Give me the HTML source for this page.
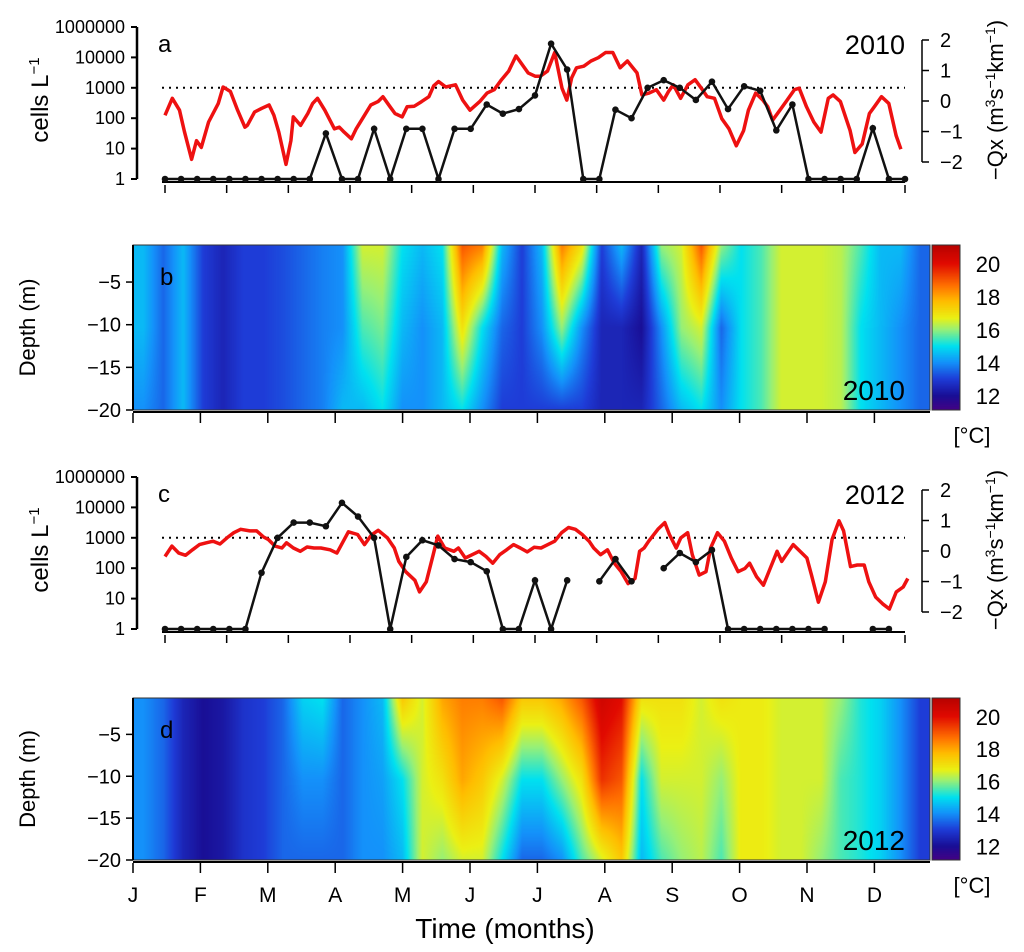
<!DOCTYPE html>
<html><head><meta charset="utf-8">
<style>
body{margin:0;background:#fff;}
#wrap{position:relative;width:1024px;height:952px;overflow:hidden;font-family:"Liberation Sans",sans-serif;}
canvas{position:absolute;}
svg{position:absolute;left:0;top:0;}
text{font-family:"Liberation Sans",sans-serif;fill:#000;}
</style></head>
<body>
<div id="wrap">
<canvas id="hmB" width="797" height="165" style="left:133px;top:245px"></canvas>
<canvas id="hmD" width="797" height="162" style="left:133px;top:698px"></canvas>
<canvas id="cbB" width="28" height="165" style="left:932px;top:245px"></canvas>
<canvas id="cbD" width="28" height="162" style="left:932px;top:698px"></canvas>
<svg id="svg" width="1024" height="952"></svg>
</div>
<script>
// ---- data ----
const cells2010 = [0,0,0,0,0,0,0,0,0,0,1.5,0,0,1.65,0,1.65,1.65,0,1.65,1.65,2.45,2.15,2.3,2.75,4.45,3.6,0,0,2.28,2.0,3.0,3.25,3.0,2.6,3.2,2.3,3.05,2.9,1.6,2.45,0,0,0,0,1.67,0,0];
const cells2012 = [0,0,0,0,0,0,1.85,3.0,3.5,3.5,3.38,4.15,3.7,3.0,0,2.37,2.92,2.75,2.3,2.2,1.9,0,0,1.6,0,1.6,null,1.57,2.3,1.57,null,2.0,2.5,2.2,2.6,0,0,0,0,0,0,0,null,null,0,0];
const qxDay2010 = [0,3,6,8,11,13,15,18,22,24,27,30,33,34,37,40,43,45,47,50,52,53,56,59,61,63,66,70,72,74,77,79,82,85,88,90,93,95,98,100,103,106,109,111,113,116,120,123,126,130,133,136,139,142,145,147,150,153,155,158,161,164,166,168,170,173,176,179,182,185,188,191,195,197,200,203,206,208,210,213,216,219,222,224,227,230,233,236,239,241,244,247,249,251,254,257,260,262,265,268,271,274,276,279,283,285,288,291,293,296,299,302,304,306,309];
const qx2010 = [-0.47,0.09,-0.3,-1.0,-1.91,-1.3,-1.52,-0.69,-0.08,0.46,0.31,-0.3,-0.86,-0.8,-0.36,-0.24,-0.13,-0.47,-1.02,-2.08,-1.3,-0.52,-0.8,-0.41,-0.08,0.09,-0.3,-0.91,-0.86,-1.02,-1.24,-0.91,-0.52,-0.13,-0.02,0.14,-0.19,-0.41,-0.52,-0.19,-0.17,-0.02,0.14,0.5,0.64,0.46,0.53,0.03,-0.3,-0.02,0.26,0.37,0.7,0.98,1.48,1.26,0.92,0.81,0.81,0.98,1.59,0.42,0.03,0.76,1.09,1.14,1.31,1.42,1.59,1.59,1.09,1.31,0.92,0.2,0.26,0.37,0.03,0.31,0.53,0.09,0.53,0.7,0.37,0.14,0.09,-0.58,-0.91,-1.47,-0.97,-0.3,0.26,0.03,-0.19,-0.63,-0.3,0.03,0.37,0.42,-0.19,-0.69,-1.02,0.09,0.2,-0.02,-0.97,-1.69,-1.41,-0.41,-0.19,0.14,-0.08,-1.13,-1.58];
const qxDay2012 = [0,3,6,9,12,15,18,21,24,27,30,33,37,40,43,45,48,51,53,56,59,62,65,68,72,75,77,80,84,87,90,93,97,100,102,105,109,111,114,117,119,122,126,128,131,134,137,140,143,146,149,152,155,158,161,164,167,170,173,176,179,182,185,187,190,193,196,199,202,205,207,209,211,215,218,220,223,225,228,230,233,236,238,241,244,247,250,253,255,258,261,264,267,269,272,274,277,280,282,285,288,291,294,296,299,302,305,307,310,313,316,319,322,324,327,330,333,335];
const qx2012 = [-0.18,0.16,-0.07,-0.14,0.04,0.21,0.27,0.32,0.23,0.43,0.6,0.71,0.66,0.66,0.46,0.38,0.16,0.1,0.27,0.1,-0.01,0.13,0.1,0.1,0.04,-0.07,0.21,0.63,0.54,0.21,0.52,0.68,0.43,0.1,-0.34,-0.68,-0.96,-1.34,-1.01,-0.12,0.49,0.1,-0.01,0.1,-0.23,-0.12,-0.01,-0.18,-0.4,-0.12,0.04,0.21,0.1,-0.03,0.12,0.1,0.21,0.32,0.6,0.77,0.71,0.54,0.32,0.1,-0.12,0.04,-0.4,-0.68,-1.07,-0.9,-0.01,0.1,0.32,0.71,0.93,0.54,0.1,0.43,0.6,-0.12,-0.79,-0.68,0.1,0.6,0.32,-0.23,-0.68,-0.57,-0.4,-0.84,-1.12,-0.57,-0.01,-0.34,-0.01,0.21,-0.01,-0.23,-0.79,-1.68,-1.01,0.38,0.99,0.66,-0.51,-0.46,-0.46,-1.01,-1.51,-1.73,-1.9,-1.34,-1.18,-0.9];
// temperature columns (surface, mid, bottom)
const tTop2010 = [14.5,13.5,14.5,13,12.5,13,13,13.2,13.5,13.8,14,16.5,16.5,15,14.5,15,19,18.5,14.5,13,14.5,18.5,17,13,14.5,12.5,16,16.5,19,16,15,15.5,16.5,16.5,16.5,16.3,15.5,14.5,14.5,13.5];
const tMid2010 = [14.5,13.5,14.5,13,12.5,13,13,13.2,13.5,13.8,14,15.5,15.8,14.5,14,14.5,17,15,13.5,13,14,16,14,12.5,12.5,12,14,16,16.5,13.5,15,15.5,16.5,16.5,16.5,16.3,15,14.5,14,13.5];
const tBot2010 = [14,13.5,14.5,13,12.5,13,13,13.2,13.5,13.8,14.5,14.5,15,14,14,14.5,15,14,13,13,13,13,13,12.5,12.5,12.5,13.5,14.5,15,14,15,15.5,16.5,16.5,16.5,16.3,15,14.5,14,13.5];
const tTop2012 = [14,13.5,12.5,12,12.2,12.8,13,13.5,14.8,15,13.5,14,14.5,17.5,16.5,18,18.5,18.5,19,17.5,17.5,18,19,20.5,20,17,17,17,16.5,17,16.8,16.8,16.5,16.5,16.5,16,15.2,14.8,14,13];
const tMid2012 = [14,13.5,12.5,12,12.2,12.8,13,13.5,14,14,13.5,14,14.2,15,16.5,17,18,17.5,16.5,15,15,16,17,19.5,19,15,16.5,16.5,16.5,16,16.8,16.8,16.5,16.5,16.5,15.5,15.2,14.8,14,13];
const tBot2012 = [14,13.5,12.5,12,12.2,12.8,13,13.5,13.5,13.5,13.5,14,14,14.5,16.5,16,16.5,16.5,15,13.5,13.5,14,15.5,16.5,17.5,14.5,15.5,16,16.3,15.5,16.8,16.8,16.5,16.5,16,15.5,15.2,14.8,14,13];
const monthLabels = ["J","F","M","A","M","J","J","A","S","O","N","D"];
const cellTicks = ["1","10","100","1000","10000","1000000"];
const cellTickPos = [0,1,2,3,4,5];
const qxTicks = [-2,-1,0,1,2];
const depthTicks = [-5,-10,-15,-20];
const cbTicks = [12,14,16,18,20];

// ---- helpers ----
const NS="http://www.w3.org/2000/svg";
const svg=document.getElementById('svg');
function mk(tag,attrs,parent){const e=document.createElementNS(NS,tag);for(const k in attrs)e.setAttribute(k,attrs[k]);(parent||svg).appendChild(e);return e;}
function txt(x,y,s,size,anchor,parent,rot){const t=mk('text',{x:x,y:y,'font-size':size,'text-anchor':anchor||'start'},parent);if(rot)t.setAttribute('transform',`rotate(${rot} ${x} ${y})`);t.textContent=s;return t;}

const stops=[[11,[75,0,130]],[12,[25,15,150]],[13,[30,60,215]],[14,[20,145,250]],[15,[0,225,240]],[16,[150,240,120]],[16.7,[235,240,20]],[17.7,[255,190,0]],[18.7,[255,110,0]],[20,[225,10,0]],[21.5,[170,0,0]]];
function col(t){if(t<=stops[0][0])return stops[0][1];for(let i=1;i<stops.length;i++){if(t<=stops[i][0]){const a=stops[i-1],b=stops[i];const f=(t-a[0])/(b[0]-a[0]);return a[1].map((v,j)=>v+(b[1][j]-v)*f);}}return stops[stops.length-1][1];}

function heat(id,top,mid,bot){
  const c=document.getElementById(id),ctx=c.getContext('2d'),W=c.width,H=c.height;
  const img=ctx.createImageData(W,H);const n=top.length;
  for(let x=0;x<W;x++){
    const fx=x/W*n-0.5;let i=Math.floor(fx),f=fx-i;const i0=Math.max(0,Math.min(n-1,i)),i1=Math.max(0,Math.min(n-1,i+1));
    const tt=top[i0]+(top[i1]-top[i0])*f, mm=mid[i0]+(mid[i1]-mid[i0])*f, bb=bot[i0]+(bot[i1]-bot[i0])*f;
    for(let y=0;y<H;y++){const fy=y/H;let t;if(fy<0.5)t=tt+(mm-tt)*(fy/0.5);else t=mm+(bb-mm)*((fy-0.5)/0.5);
      const cc=col(t);const p=(y*W+x)*4;img.data[p]=cc[0];img.data[p+1]=cc[1];img.data[p+2]=cc[2];img.data[p+3]=255;}
  }
  ctx.putImageData(img,0,0);
}
function cbar(id){const c=document.getElementById(id),ctx=c.getContext('2d');const H=c.height;for(let y=0;y<H;y++){const t=21.1-(y/H)*10;const cc=col(t);ctx.fillStyle=`rgb(${cc[0]|0},${cc[1]|0},${cc[2]|0})`;ctx.fillRect(0,y,28,1);}}
heat('hmB',tTop2010,tMid2010,tBot2010);heat('hmD',tTop2012,tMid2012,tBot2012);cbar('cbB');cbar('cbD');

// ---- line panels ----
function linePanel(oy,cells,qxDay,qx,letter,year,cName,xEnd){
  const g=mk('g',{});
  
  
  const x0=165,x1=905;
  const yC=v=>oy+179-v*30.4;
  const yQ=v=>oy+101-v*30.5;
  const dMax=qxDay[qxDay.length-1];
  const xDay=d=>x0+d*(xEnd-x0)/dMax;
  const xIdx=i=>x0+i*(x1-x0)/46;
  mk('line',{x1:137,y1:yC(5),x2:137,y2:yC(0),stroke:'#000','stroke-width':2.5},g);
  cellTickPos.forEach((p,i)=>{mk('line',{x1:131,y1:yC(p),x2:137,y2:yC(p),stroke:'#000','stroke-width':2},g);const t=txt(125,yC(p)+6,cellTicks[i],18,'end',g);});
  const yl=txt(48,oy+100,'cells L',24,'middle',g,-90);const sup=mk('tspan',{'font-size':15,dy:-9},yl);sup.textContent='−1';
  
  mk('line',{x1:162,y1:oy+182,x2:905,y2:oy+182,stroke:'#000','stroke-width':2},g);
  for(let k=0;k<13;k++){const x=x0+k*(x1-x0)/12;mk('line',{x1:x,y1:oy+185,x2:x,y2:oy+193,stroke:'#000','stroke-width':1.5},g);}
  const th=mk('line',{x1:162,y1:yC(3),x2:905,y2:yC(3),stroke:'#000','stroke-width':2,'stroke-dasharray':'2,5'},g);
  
  mk('line',{x1:922,y1:yQ(2),x2:922,y2:yQ(-2),stroke:'#000','stroke-width':1.5},g);
  qxTicks.forEach(v=>{mk('line',{x1:922,y1:yQ(v),x2:929,y2:yQ(v),stroke:'#000','stroke-width':1.5},g);const t=txt(940,yQ(v)+7,v<0?'−'+(-v):String(v),20,'start',g);});
  const rt=txt(1003,oy+100,'−Qx  (m',22,'middle',g,-90);
  [['3',-8],['s',8],['−1',-8],['km',8],['−1',-8],[')',8]].forEach((p,i)=>{const s=mk('tspan',{'font-size':(i%2==0&&i<5)?14:22,dy:p[1]},rt);s.textContent=p[0];});
  
  let d='';qx.forEach((v,i)=>{d+=(i?'L':'M')+xDay(qxDay[i]).toFixed(1)+','+yQ(v).toFixed(1);});
  const rl=mk('path',{d:d,fill:'none',stroke:'#ee1111','stroke-width':3.5,'stroke-linejoin':'round'},g);
  
  let seg='',pen=false;cells.forEach((v,i)=>{if(v===null){pen=false;return;}seg+=(pen?'L':'M')+xIdx(i).toFixed(1)+','+yC(v).toFixed(1);pen=true;});
  const bl=mk('path',{d:seg,fill:'none',stroke:'#111','stroke-width':2.5},g);
  
  cells.forEach((v,i)=>{if(v===null)return;const c=mk('circle',{cx:xIdx(i),cy:yC(v),r:3.3,fill:'#111'},g);
    
    });
  const pl=txt(158,oy+52,letter,24,'start',g);
  const yr=txt(905,oy+54,year,27,'end',g);
}
linePanel(0,cells2010,qxDay2010,qx2010,'a','2010','panel-a',913);
linePanel(450,cells2012,qxDay2012,qx2012,'c','2012','panel-c',933);

// ---- heatmap panels axes ----
function heatAxes(oy,h,letter,year,name,showLabels){
  const g=mk('g',{});
  
  
  const ys=v=>oy+h-(v+20)*8.53*(h/165);
  mk('rect',{x:133,y:oy,width:797,height:h,fill:'none',stroke:'#333','stroke-width':1},g);
  mk('line',{x1:133,y1:oy,x2:133,y2:oy+h,stroke:'#000','stroke-width':2},g);
  depthTicks.forEach(v=>{const y=ys(v);mk('line',{x1:126,y1:y,x2:133,y2:y,stroke:'#000','stroke-width':1.5},g);txt(121,y+7,'−'+(-v),20,'end',g);});
  const yl=txt(35,oy+h/2,'Depth (m)',22,'middle',g,-90);
  mk('line',{x1:133,y1:oy+h+2,x2:930,y2:oy+h+2,stroke:'#000','stroke-width':2},g);
  for(let k=0;k<12;k++){const x=133+k*67.4;mk('line',{x1:x,y1:oy+h+3,x2:x,y2:oy+h+13,stroke:'#000','stroke-width':1.5},g);
    if(showLabels){const t=txt(x,oy+h+42,monthLabels[k],21,'middle',g);}}
  txt(160,oy+40,letter,24,'start',g);
  txt(905,oy+h-10,year,28,'end',g);
  mk('rect',{x:932,y:oy,width:28,height:h,fill:'none',stroke:'#333','stroke-width':1},g);
  cbTicks.forEach(v=>{const y=oy+h-(v-11.1)*h/10;txt(988,y+9,String(v),22,'middle',g);});
  txt(972,oy+h+33,'[°C]',22,'middle',g);
}
heatAxes(245,165,'b','2010','panel-b',false);
heatAxes(698,162,'d','2012','panel-d',true);
const xt=txt(505,938,'Time (months)',28,'middle');

</script>
</body></html>
